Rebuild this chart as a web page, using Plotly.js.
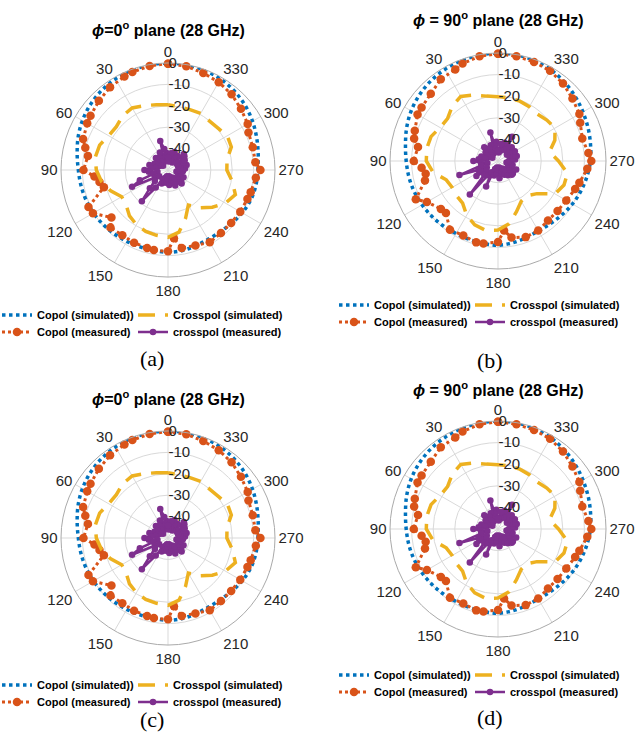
<!DOCTYPE html>
<html><head><meta charset="utf-8">
<script src="https://cdn.plot.ly/plotly-3.0.1.min.js"></script>
<style>html,body{margin:0;padding:0;background:#fff}#chart{width:637px;height:737px}</style>
</head><body><div id="chart"></div><script>
// angles (degrees)
const thetaSim = [0,10,20,30,40,50,60,70,80,90,100,110,120,130,140,150,160,170,180,190,200,210,220,230,240,250,260,270,280,290,300,310,320,330,340,350,360];
const thetaCopolMeas = [0,10,20,25,35,45,55,60,70,75,80,90,95,100,105,115,120,130,135,145,155,165,170,180,185,190,200,210,220,230,240,250,255,265,270,275,285,295,300,310,320,330,340,350,360];
const thetaCrossMeas = [0,5,10,15,20,25,30,35,40,45,50,55,60,65,70,75,80,85,90,95,100,105,110,115,120,125,130,135,140,145,150,155,160,165,170,175,180,185,190,195,200,205,210,215,220,225,230,235,240,245,250,255,260,265,270,275,280,285,290,295,300,305,310,315,320,325,330,335,340,345,350,355,360];
const angleTicks = [0,30,60,90,120,150,180,210,240,270,300,330];
const angleTickText = ['0','30','60','90','120','150','180','210','240','270','300','330'];
const radialTicks = [-40,-30,-20,-10,0];
const radialTickText = ['-40','-30','-20','-10','0'];

// phi = 0 plane
const copolSimA = [0,-0.1,-0.4,-0.9,-1.6,-2.6,-3.8,-5.3,-6.9,-8.1,-8.7,-9.2,-9.8,-10.4,-11.0,-11.5,-11.8,-11.8,-11.6,-11.8,-12.3,-12.6,-12.2,-11.3,-10.0,-8.9,-8.3,-8.0,-7.2,-5.9,-4.4,-3.0,-1.8,-0.9,-0.4,-0.1,0];
const crossSimA = [-19.5,-19.0,-18.0,-16.5,-17.0,-18.5,-18.0,-16.0,-15.5,-16.5,-18.5,-21.5,-25.0,-24.5,-22.0,-20.5,-19.5,-19.0,-18.5,-20.5,-26.0,-31.0,-27.0,-23.0,-19.0,-16.5,-19.5,-22.5,-22.0,-18.5,-18.0,-19.5,-20.0,-19.5,-20.0,-20.0,-19.5];
const copolMeasA = [-0.3,-0.6,-1.3,-1.8,-2.8,-4.3,-5.8,-6.4,-7.8,-10.0,-12.0,-10.5,-15.5,-17.5,-19.0,-9.0,-9.5,-15.5,-12.0,-12.8,-12.5,-12.3,-12.0,-12.0,-18.0,-13.0,-12.5,-11.0,-11.5,-11.5,-11.0,-10.5,-10.0,-8.8,-6.8,-9.0,-9.0,-8.5,-7.0,-5.5,-3.8,-2.6,-1.8,-0.8,-0.3];
const crossMeasA = [-44,-42,-40,-36,-44,-41,-46,-43,-45,-42,
  -47,-44,-46,-43,-45,-41,-44,-42,-39,-41,
  -45,-43,-36,-31.5,-43,-45,-42,-38,-31,-40,
  -45,-43,-46,-44,-47,-44,-46,-43,-47,-44,
  -45,-42,-46,-43,-45,-41,-42,-43,-44,-42,
  -45,-44,-46,-43,-45,-42,-44,-41,-45,-42,
  -41,-45,-40,-39.5,-44,-42,-46,-43,-41,-45,
  -42,-46,-44];

// phi = 90 plane
const copolSimB = [0,-0.2,-0.5,-1.0,-1.6,-2.5,-3.6,-5.0,-6.5,-7.5,-8.1,-8.7,-9.4,-10.1,-10.7,-11.2,-11.4,-11.2,-11.0,-11.5,-12.2,-12.6,-12.2,-11.3,-10.2,-9.2,-8.2,-7.2,-6.5,-5.6,-4.6,-3.4,-2.2,-1.2,-0.5,-0.1,0];
const crossSimB = [-20.2,-19.5,-17.5,-15.5,-17.0,-19.5,-19.0,-17.0,-16.5,-16.8,-19.5,-24.5,-25.5,-25.0,-24.5,-21.0,-18.5,-17.4,-18.0,-20.5,-25.0,-28.5,-29.0,-26.5,-19.5,-17.5,-17.3,-22.0,-25.8,-22.0,-19.5,-20.5,-21.6,-21.0,-20.5,-20.3,-20.2];
const copolMeasB = [-0.3,-0.8,-2.0,-3.2,-3.8,-6.0,-6.8,-7.0,-9.0,-9.8,-12.4,-11.0,-14.5,-16.0,-15.0,-8.0,-12.0,-15.5,-15.9,-11.2,-12.0,-11.0,-11.2,-12.5,-17.7,-14.0,-12.5,-12.8,-14.0,-14.0,-13.5,-12.0,-11.0,-8.5,-6.8,-8.0,-9.6,-8.0,-6.5,-5.0,-3.2,-1.8,-1.2,-0.8,-0.3];
const crossMeasB = [-45,-41,-43,-36.4,-44,-42,-46,-43,-45,-41,
  -46,-43,-47,-44,-45,-42,-44,-41,-38.6,-42,
  -45,-42,-31,-40,-44,-37.8,-43,-41,-29.7,-42,
  -44,-37,-46,-43,-47,-44,-46,-42,-47,-44,
  -45,-43,-46,-42,-45,-41,-41,-43,-44,-40.7,
  -45,-43,-46,-44,-45,-42,-43,-41,-42,-44,
  -41,-45,-43,-41,-44,-42,-37,-44,-41,-45,
  -42,-46,-45];

const seriesNames = ['Copol (simulated))','Copol (measured)','Crosspol (simulated)','crosspol (measured)'];
const panelTitles = ['<i>ϕ</i>=0<sup>o</sup> plane (28 GHz)','<i>ϕ</i> = 90<sup>o</sup> plane (28 GHz)','<i>ϕ</i>=0<sup>o</sup> plane (28 GHz)','<i>ϕ</i> = 90<sup>o</sup> plane (28 GHz)'];
const captions = ['(a)','(b)','(c)','(d)'];

const W = 637, H = 737;
const px = v => v / W;
const py = v => 1 - v / H;

const panels = [
  {data:'A', cx:168, cy:170, r:107, title:[168,29], cap:[152,358], leg:[-3,315,332]},
  {data:'B', cx:498, cy:161, r:108, title:[498,19], cap:[490,360], leg:[334,305,322]},
  {data:'A', cx:168, cy:538, r:107, title:[168,398], cap:[152,719], leg:[-3,685,702]},
  {data:'B', cx:498, cy:529, r:108, title:[498,389], cap:[490,717], leg:[334,675,692]}
];
const sets = {
  A:{cs:copolSimA, xs:crossSimA, cm:copolMeasA, xm:crossMeasA},
  B:{cs:copolSimB, xs:crossSimB, cm:copolMeasB, xm:crossMeasB}
};

const traces = [];
const layout = {
  width: W, height: H,
  margin: {l:0, r:0, t:0, b:0, autoexpand:false},
  paper_bgcolor: '#fff',
  showlegend: true,
  font: {family: 'Liberation Sans, Arial, sans-serif', color: '#262626'},
  annotations: []
};

panels.forEach((p, i) => {
  const n = i + 1;
  const sub = n === 1 ? 'polar' : 'polar' + n;
  const l1 = 2*i + 1, l2 = 2*i + 2;
  const leg1 = l1 === 1 ? 'legend' : 'legend' + l1;
  const leg2 = 'legend' + l2;
  const d = sets[p.data];
  traces.push({type:'scatterpolar', subplot:sub, legend:leg1, name:seriesNames[0], legendwidth:91,
    r:d.cs, theta:thetaSim, mode:'lines',
    line:{color:'#0072BD', width:3.5, dash:'3.5px,3.5px', shape:'spline'}});
  traces.push({type:'scatterpolar', subplot:sub, legend:leg2, name:seriesNames[1], legendwidth:91,
    r:d.cm, theta:thetaCopolMeas, mode:'lines+markers',
    line:{color:'#D95319', width:3, dash:'3px,3px'},
    marker:{color:'#D95319', size:8.5}});
  traces.push({type:'scatterpolar', subplot:sub, legend:leg1, name:seriesNames[2], legendwidth:118,
    r:d.xs, theta:thetaSim, mode:'lines',
    line:{color:'#EDB120', width:3.5, dash:'17px,10px'}});
  traces.push({type:'scatterpolar', subplot:sub, legend:leg2, name:seriesNames[3], legendwidth:118,
    r:d.xm, theta:thetaCrossMeas, mode:'lines+markers',
    line:{color:'#7E2F8E', width:2.5},
    marker:{color:'#7E2F8E', size:6.5}});

  layout[sub] = {
    domain: {x:[px(p.cx - p.r), px(p.cx + p.r)], y:[py(p.cy + p.r), py(p.cy - p.r)]},
    bgcolor: '#fff',
    angularaxis: {
      rotation: 90, direction: 'counterclockwise', thetaunit: 'degrees',
      tickmode: 'array', tickvals: angleTicks, ticktext: angleTickText,
      ticks: '', showline: true, linecolor: '#aaaaaa', linewidth: 1,
      gridcolor: '#d9d9d9', gridwidth: 1,
      tickfont: {size: 15, color: '#262626'}
    },
    radialaxis: {
      range: [-50, 0], angle: 90, side: 'clockwise',
      tickmode: 'array', tickvals: radialTicks, ticktext: radialTickText,
      ticks: '', showline: false, gridcolor: '#d9d9d9', gridwidth: 1,
      tickangle: 90,
      tickfont: {size: 15, color: '#262626'}
    }
  };

  const legBase = {orientation:'h', xanchor:'left', yanchor:'middle',
    bgcolor:'rgba(0,0,0,0)', borderwidth:0,
    traceorder:'normal', font:{size:11, color:'#000', weight:'bold', family:'Liberation Sans, Arial, sans-serif'}};
  layout[leg1] = Object.assign({}, legBase, {x: px(p.leg[0]), y: py(p.leg[1])});
  layout[leg2] = Object.assign({}, legBase, {x: px(p.leg[0]), y: py(p.leg[2])});

  layout.annotations.push({xref:'paper', yref:'paper', x:px(p.title[0]), y:py(p.title[1]),
    xanchor:'center', yanchor:'middle', showarrow:false,
    text:'<b>' + panelTitles[i] + '</b>',
    font:{size:16, color:'#000', family:'Liberation Sans, Arial, sans-serif'}});
  layout.annotations.push({xref:'paper', yref:'paper', x:px(p.cap[0]), y:py(p.cap[1]),
    xanchor:'center', yanchor:'middle', showarrow:false,
    text: captions[i],
    font:{size:22, color:'#000', family:'Liberation Serif, Times New Roman, serif'}});
});

Plotly.newPlot('chart', traces, layout, {displayModeBar:false, staticPlot:true});
</script></body></html>
